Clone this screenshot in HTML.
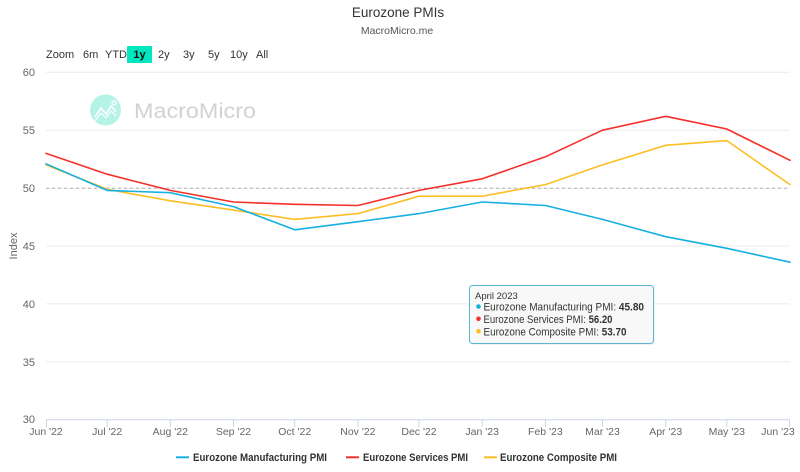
<!DOCTYPE html>
<html>
<head>
<meta charset="utf-8">
<style>
html,body{margin:0;padding:0;background:#fff;}
svg{display:block;font-family:"Liberation Sans",sans-serif;}
</style>
</head>
<body>
<svg width="800" height="472" viewBox="0 0 800 472" xmlns="http://www.w3.org/2000/svg">
<rect width="800" height="472" fill="#fff"/>
<!-- title -->
<text x="398" y="17" text-anchor="middle" font-size="13.5" fill="#333">Eurozone PMIs</text>
<text x="397" y="34" text-anchor="middle" font-size="10.5" fill="#555">MacroMicro.me</text>

<!-- range selector -->
<g font-size="11" fill="#333">
<text x="46" y="58">Zoom</text>
<text x="83" y="58">6m</text>
<text x="105" y="58">YTD</text>
<rect x="127" y="46" width="25" height="17" fill="#00e6be" rx="1"/>
<text x="139.5" y="58" text-anchor="middle" font-weight="bold" fill="#111">1y</text>
<text x="158" y="58">2y</text>
<text x="183" y="58">3y</text>
<text x="208" y="58">5y</text>
<text x="230" y="58">10y</text>
<text x="256" y="58">All</text>
</g>

<!-- watermark -->
<circle cx="105.5" cy="110" r="15.5" fill="#b4f3e6"/>
<polyline points="95,117 101,108 106,114 111,106 116,112" fill="none" stroke="#fff" stroke-width="1.6"/>
<polyline points="95,121 101,113 106,118 111,111 116,116" fill="none" stroke="#fff" stroke-width="1.2"/>
<circle cx="114" cy="103" r="2" fill="none" stroke="#fff" stroke-width="1.2"/>
<text x="134" y="118" font-size="21.5" fill="#d2d2d2" textLength="122" lengthAdjust="spacingAndGlyphs">MacroMicro</text>

<!-- grid -->
<g stroke="#ebebeb" stroke-width="1">
<line x1="46" y1="72.3" x2="790" y2="72.3"/>
<line x1="46" y1="130.2" x2="790" y2="130.2"/>
<line x1="46" y1="188.1" x2="790" y2="188.1"/>
<line x1="46" y1="246" x2="790" y2="246"/>
<line x1="46" y1="303.9" x2="790" y2="303.9"/>
<line x1="46" y1="361.8" x2="790" y2="361.8"/>
</g>
<line x1="46" y1="188.3" x2="790" y2="188.3" stroke="#b0b0b0" stroke-width="1" stroke-dasharray="3,3"/>

<!-- y labels -->
<g font-size="11" fill="#666" text-anchor="end">
<text x="35" y="76">60</text>
<text x="35" y="134">55</text>
<text x="35" y="192">50</text>
<text x="35" y="250">45</text>
<text x="35" y="308">40</text>
<text x="35" y="366">35</text>
<text x="35" y="423">30</text>
</g>
<text transform="translate(17,246) rotate(-90)" text-anchor="middle" font-size="11" fill="#666">Index</text>

<!-- x axis -->
<line x1="46" y1="419.7" x2="790" y2="419.7" stroke="#ccd6eb" stroke-width="1"/>
<g stroke="#ccd6eb" stroke-width="1">
<line x1="46.5" y1="419.7" x2="46.5" y2="427"/>
<line x1="107.2" y1="419.7" x2="107.2" y2="427"/>
<line x1="170.3" y1="419.7" x2="170.3" y2="427"/>
<line x1="233.5" y1="419.7" x2="233.5" y2="427"/>
<line x1="294.7" y1="419.7" x2="294.7" y2="427"/>
<line x1="357.9" y1="419.7" x2="357.9" y2="427"/>
<line x1="419" y1="419.7" x2="419" y2="427"/>
<line x1="482.2" y1="419.7" x2="482.2" y2="427"/>
<line x1="545.4" y1="419.7" x2="545.4" y2="427"/>
<line x1="602.5" y1="419.7" x2="602.5" y2="427"/>
<line x1="665.7" y1="419.7" x2="665.7" y2="427"/>
<line x1="726.8" y1="419.7" x2="726.8" y2="427"/>
<line x1="789.5" y1="419.7" x2="789.5" y2="427"/>
</g>
<g font-size="10.5" fill="#666" text-anchor="middle">
<text x="46" y="435">Jun '22</text>
<text x="107.2" y="435">Jul '22</text>
<text x="170.3" y="435">Aug '22</text>
<text x="233.5" y="435">Sep '22</text>
<text x="294.7" y="435">Oct '22</text>
<text x="357.9" y="435">Nov '22</text>
<text x="419" y="435">Dec '22</text>
<text x="482.2" y="435">Jan '23</text>
<text x="545.4" y="435">Feb '23</text>
<text x="602.5" y="435">Mar '23</text>
<text x="665.7" y="435">Apr '23</text>
<text x="726.8" y="435">May '23</text>
<text x="778" y="435">Jun '23</text>
</g>

<!-- series -->
<g fill="none" stroke-width="1.6" stroke-linejoin="round" stroke-linecap="round">
<polyline stroke="#fbbf24" points="46,164.9 107.2,189.3 170.3,200.8 233.5,210.1 294.7,219.4 357.9,213.6 419,196.2 482.2,196.2 545.4,184.6 602.5,164.9 665.7,145.3 726.8,140.6 790,184.6"/>
<polyline stroke="#16b0e2" points="46,163.8 107.2,190.4 170.3,192.7 233.5,206.6 294.7,229.8 357.9,221.7 419,213.6 482.2,202 545.4,205.5 602.5,219.4 665.7,236.7 726.8,248.3 790,262.2"/>
<polyline stroke="#f5302a" points="46,153.4 107.2,174.2 170.3,190.4 233.5,202 294.7,204.3 357.9,205.5 419,190.4 482.2,178.8 545.4,156.8 602.5,130.2 665.7,116.3 726.8,129 790,160.3"/>
</g>

<!-- tooltip -->
<rect x="471" y="287" width="184" height="58" rx="3" fill="#000" opacity="0.05"/>
<rect x="469.5" y="285.5" width="184" height="58" rx="3" fill="#f9f9f9" fill-opacity="0.92" stroke="#5bb6d4" stroke-width="1"/>
<text x="475" y="299" font-size="9.5" fill="#333">April 2023</text>
<circle cx="478.5" cy="306.5" r="2.3" fill="#16b0e2"/>
<circle cx="478.5" cy="318.8" r="2.3" fill="#f5302a"/>
<circle cx="478.5" cy="331.2" r="2.3" fill="#fbbf24"/>
<g font-size="11" fill="#333">
<text x="483.5" y="310.5" textLength="160.5" lengthAdjust="spacingAndGlyphs">Eurozone Manufacturing PMI: <tspan font-weight="bold">45.80</tspan></text>
<text x="483.5" y="323" textLength="129" lengthAdjust="spacingAndGlyphs">Eurozone Services PMI: <tspan font-weight="bold">56.20</tspan></text>
<text x="483.5" y="335.5" textLength="143" lengthAdjust="spacingAndGlyphs">Eurozone Composite PMI: <tspan font-weight="bold">53.70</tspan></text>
</g>

<!-- legend -->
<g stroke-width="2">
<line x1="176" y1="457.3" x2="189" y2="457.3" stroke="#16b0e2"/>
<line x1="346" y1="457.3" x2="359" y2="457.3" stroke="#f5302a"/>
<line x1="484" y1="457.3" x2="497" y2="457.3" stroke="#fbbf24"/>
</g>
<g font-size="11" font-weight="bold" fill="#333">
<text x="193" y="461" textLength="134" lengthAdjust="spacingAndGlyphs">Eurozone Manufacturing PMI</text>
<text x="363" y="461" textLength="105" lengthAdjust="spacingAndGlyphs">Eurozone Services PMI</text>
<text x="500" y="461" textLength="117" lengthAdjust="spacingAndGlyphs">Eurozone Composite PMI</text>
</g>
</svg>
</body>
</html>
